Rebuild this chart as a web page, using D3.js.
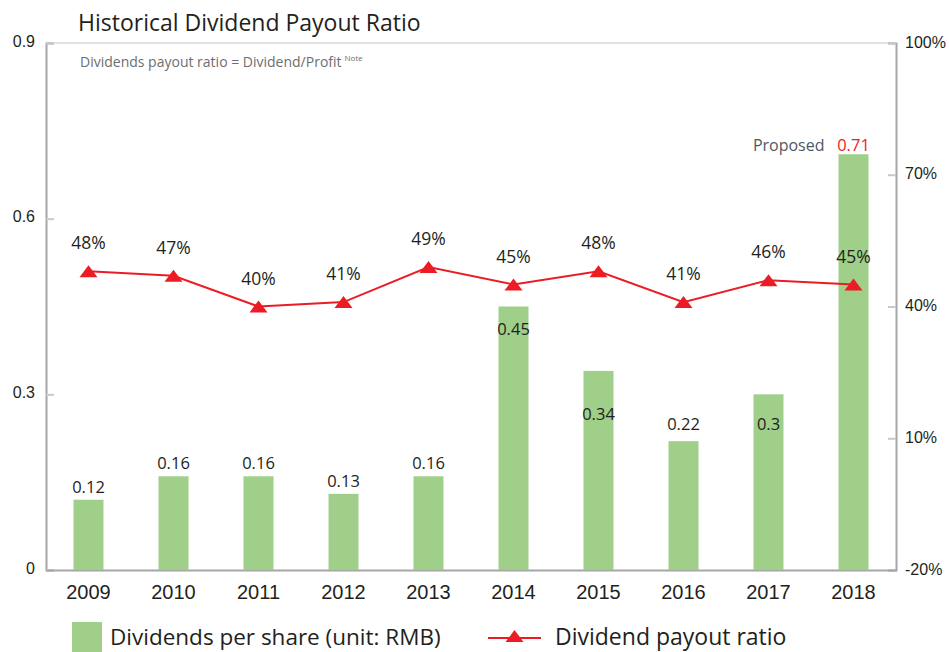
<!DOCTYPE html>
<html>
<head>
<meta charset="utf-8">
<script src="https://cdn.jsdelivr.net/npm/d3@7"></script>
<style>
  body { margin: 0; background: #fff; }
  svg { display: block; font-family: "Open Sans", "Noto Sans", sans-serif; }
</style>
</head>
<body>
<script>
// chart data
const years = ["2009", "2010", "2011", "2012", "2013", "2014", "2015", "2016", "2017", "2018"];
const dividends = [0.12, 0.16, 0.16, 0.13, 0.16, 0.45, 0.34, 0.22, 0.3, 0.71];
const payoutRatio = [48, 47, 40, 41, 49, 45, 48, 41, 46, 45];
const leftTicks = [0, 0.3, 0.6, 0.9];
const rightTicks = [-20, 10, 40, 70, 100];

// layout only: vertical shift of each dividend label from the bar top
const barLabelDy = [-13, -13, -13, -13, -13, 23, 43, -17, 30, -9];

let width = 949, height = 652;
let plot = {left: 46, right: 896, top: 43, bottom: 570};
let svg, x, yLeft, yRight;

const green = "#9fcf89";
const red = "#ec1c24";
const axisGrey = "#a6a6a6";
const textDark = "#231f20";

appendSvg();
setupScales();
appendFrame();
appendBars();
appendLine();
appendTitle();
appendLegend();

function appendSvg() {
  svg = d3.select("body").append("svg")
    .attr("width", width)
    .attr("height", height);
}

function setupScales() {
  x = d3.scaleBand()
    .domain(years)
    .range([plot.left, plot.right])
    .paddingInner(55 / 85)
    .paddingOuter(55 / 170);

  yLeft = d3.scaleLinear()
    .domain([0, 0.9])
    .range([plot.bottom, plot.top]);

  yRight = d3.scaleLinear()
    .domain([-20, 100])
    .range([plot.bottom, plot.top]);
}

function appendFrame() {
  // top border
  svg.append("line")
    .attr("x1", plot.left).attr("x2", plot.right)
    .attr("y1", plot.top).attr("y2", plot.top)
    .attr("stroke", "#d9d9d9").attr("stroke-width", 1.5);

  // left axis
  const left = svg.append("g")
    .attr("transform", `translate(${plot.left},0)`)
    .call(d3.axisRight(yLeft).tickValues(leftTicks).tickSize(8).tickFormat(d3.format("")));
  left.select(".domain").attr("stroke", axisGrey).attr("stroke-width", 2);
  left.selectAll(".tick line").attr("stroke", "#c8c8c8").attr("stroke-width", 2);
  left.selectAll(".tick text")
    .attr("x", -11)
    .attr("dy", "0.2em")
    .attr("text-anchor", "end")
    .attr("fill", textDark)
    .style("font-size", "16px");

  // right axis
  const right = svg.append("g")
    .attr("transform", `translate(${plot.right},0)`)
    .call(d3.axisLeft(yRight).tickValues(rightTicks).tickSize(8).tickFormat(d => d + "%"));
  right.select(".domain").attr("stroke", axisGrey).attr("stroke-width", 2);
  right.selectAll(".tick line").attr("stroke", "#c8c8c8").attr("stroke-width", 2);
  right.selectAll(".tick text")
    .attr("x", 9)
    .attr("dy", "0.25em")
    .attr("text-anchor", "start")
    .attr("fill", textDark)
    .style("font-size", "16px");

  // bottom axis
  const bottom = svg.append("g")
    .attr("transform", `translate(0,${plot.bottom})`)
    .call(d3.axisBottom(x).tickSize(0).tickPadding(15));
  bottom.select(".domain").attr("stroke", axisGrey).attr("stroke-width", 2);
  bottom.selectAll(".tick text")
    .attr("fill", textDark)
    .style("font-size", "20px");
}

function appendBars() {
  const bw = x.bandwidth();
  svg.selectAll("rect.bar")
    .data(dividends)
    .enter()
    .append("rect")
    .attr("class", "bar")
    .attr("x", (d, i) => x(years[i]))
    .attr("y", d => yLeft(d))
    .attr("width", bw)
    .attr("height", d => plot.bottom - yLeft(d))
    .attr("fill", green);

  svg.selectAll("text.barlabel")
    .data(dividends)
    .enter()
    .append("text")
    .attr("class", "barlabel")
    .attr("x", (d, i) => x(years[i]) + bw / 2)
    .attr("y", (d, i) => yLeft(d) + barLabelDy[i])
    .attr("dy", "0.35em")
    .attr("text-anchor", "middle")
    .attr("fill", (d, i) => i === dividends.length - 1 ? red : textDark)
    .style("font-size", "16.5px")
    .text(d => d);

  const last = dividends.length - 1;
  svg.append("text")
    .attr("x", x(years[last]) - 14)
    .attr("y", yLeft(dividends[last]) + barLabelDy[last])
    .attr("dy", "0.35em")
    .attr("text-anchor", "end")
    .attr("fill", "#4d5964")
    .style("font-size", "16px")
    .text("Proposed");
}

function trianglePath(cx, cy, w, h) {
  return `M${cx},${cy - h / 2}L${cx + w / 2},${cy + h / 2}L${cx - w / 2},${cy + h / 2}Z`;
}

function appendLine() {
  const cx = (d, i) => x(years[i]) + x.bandwidth() / 2;
  const line = d3.line()
    .x(cx)
    .y(d => yRight(d));

  svg.append("path")
    .datum(payoutRatio)
    .attr("d", line)
    .attr("fill", "none")
    .attr("stroke", red)
    .attr("stroke-width", 2);

  svg.selectAll("path.marker")
    .data(payoutRatio)
    .enter()
    .append("path")
    .attr("class", "marker")
    .attr("d", (d, i) => trianglePath(cx(d, i), yRight(d), 18, 12))
    .attr("fill", red);

  svg.selectAll("text.pct")
    .data(payoutRatio)
    .enter()
    .append("text")
    .attr("class", "pct")
    .attr("x", cx)
    .attr("y", d => yRight(d) - 28)
    .attr("dy", "0.35em")
    .attr("text-anchor", "middle")
    .attr("fill", textDark)
    .style("font-size", "17.5px")
    .text(d => d + "%");
}

function appendTitle() {
  svg.append("text")
    .attr("x", 78)
    .attr("y", 31)
    .attr("fill", textDark)
    .style("font-size", "23px")
    .text("Historical Dividend Payout Ratio");

  const sub = svg.append("text")
    .attr("x", 80)
    .attr("y", 67)
    .attr("fill", "#6d6e71")
    .style("font-size", "14px")
    .text("Dividends payout ratio = Dividend/Profit");
  sub.append("tspan")
    .attr("dx", 3)
    .attr("dy", -6)
    .style("font-size", "8px")
    .text("Note");
}

function appendLegend() {
  const g = svg.append("g");
  g.append("rect")
    .attr("x", 72).attr("y", 622)
    .attr("width", 30).attr("height", 30)
    .attr("fill", green);
  g.append("text")
    .attr("x", 110).attr("y", 645)
    .attr("fill", textDark)
    .style("font-size", "22.5px")
    .text("Dividends per share (unit: RMB)");

  g.append("line")
    .attr("x1", 488).attr("x2", 541)
    .attr("y1", 638).attr("y2", 638)
    .attr("stroke", red).attr("stroke-width", 2);
  g.append("path")
    .attr("d", trianglePath(514.5, 636, 18, 12))
    .attr("fill", red);
  g.append("text")
    .attr("x", 555).attr("y", 645)
    .attr("fill", textDark)
    .style("font-size", "23px")
    .text("Dividend payout ratio");
}
</script>
</body>
</html>
